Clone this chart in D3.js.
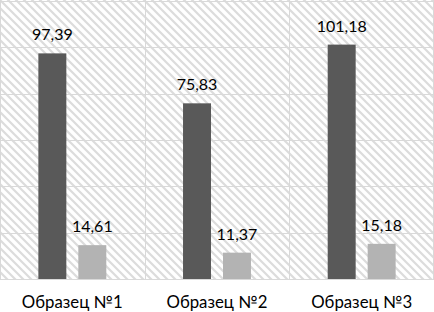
<!DOCTYPE html>
<html>
<head>
<meta charset="utf-8">
<script src="https://cdn.jsdelivr.net/npm/d3@7"></script>
<style>
  body { margin: 0; background: #fff; }
  text { font-family: Lato, "Open Sans", sans-serif; fill: #000; }
</style>
</head>
<body>
<script>
// данные
const categories = ["Образец №1", "Образец №2", "Образец №3"];
const seriesNames = ["s1", "s2"];
const series1 = [97.39, 75.83, 101.18];
const series2 = [14.61, 11.37, 15.18];
const yTicks = [0, 20, 40, 60, 80, 100, 120];
const seriesColors = ["#595959", "#b3b3b3"];

const width = 434, height = 312;
const plot = { left: 0, right: 434, top: 0, bottom: 279 };

const svg = d3.select("body").append("svg")
    .attr("width", width)
    .attr("height", height);

// штриховка фона
const pat = svg.append("defs").append("pattern")
    .attr("id", "hatch")
    .attr("patternUnits", "userSpaceOnUse")
    .attr("width", 8).attr("height", 8);
pat.append("rect").attr("width", 8).attr("height", 8).attr("fill", "#fff");
pat.append("path")
    .attr("d", "M-2,-2 L10,10 M-2,6 L2,10 M6,-2 L10,2")
    .attr("stroke", "#dcdcdc")
    .attr("stroke-width", 2.2);

const x = d3.scaleBand().domain(categories).range([plot.left, plot.right]);
const xInner = d3.scaleBand().domain(seriesNames)
    .range([0, x.bandwidth()])
    .paddingInner(0.3)
    .paddingOuter(0.96);
const y = d3.scaleLinear().domain([0, 120]).range([plot.bottom, plot.top + 1]);

svg.append("rect")
    .attr("x", plot.left).attr("y", plot.top)
    .attr("width", plot.right - plot.left)
    .attr("height", plot.bottom - plot.top)
    .attr("fill", "url(#hatch)");

// сетка
svg.append("g").selectAll("line")
    .data(yTicks)
    .join("line")
    .attr("x1", plot.left).attr("x2", plot.right)
    .attr("y1", d => Math.round(y(d)) + 0.5)
    .attr("y2", d => Math.round(y(d)) + 0.5)
    .attr("stroke", "#d9d9d9");

// вертикальные разделители
const seps = [0, ...categories.map(c => x(c) + x.bandwidth())];
svg.append("g").selectAll("line")
    .data(seps)
    .join("line")
    .attr("x1", d => Math.min(Math.round(d) + 0.5, width - 0.5))
    .attr("x2", d => Math.min(Math.round(d) + 0.5, width - 0.5))
    .attr("y1", plot.top).attr("y2", plot.bottom)
    .attr("stroke", "#d9d9d9");

const rows = categories.map((c, i) => ({ cat: c, vals: [series1[i], series2[i]] }));

const groups = svg.append("g").selectAll("g")
    .data(rows)
    .join("g")
    .attr("transform", d => `translate(${x(d.cat)},0)`);

const bars = groups.selectAll("g")
    .data(d => d.vals.map((v, j) => ({ key: seriesNames[j], v, j })))
    .join("g");

bars.append("rect")
    .attr("x", d => xInner(d.key))
    .attr("y", d => y(d.v))
    .attr("width", xInner.bandwidth())
    .attr("height", d => y(0) - y(d.v))
    .attr("fill", d => seriesColors[d.j]);

bars.append("text")
    .attr("x", d => xInner(d.key) + xInner.bandwidth() / 2)
    .attr("y", d => y(d.v) - 13)
    .attr("text-anchor", "middle")
    .style("font-size", "16px")
    .text(d => d3.format(".2f")(d.v).replace(".", ","));

// подписи категорий
svg.append("g").selectAll("text")
    .data(categories)
    .join("text")
    .attr("x", d => x(d) + x.bandwidth() / 2)
    .attr("y", 308)
    .attr("text-anchor", "middle")
    .style("font-size", "16.8px")
    .text(d => d);
</script>
</body>
</html>
